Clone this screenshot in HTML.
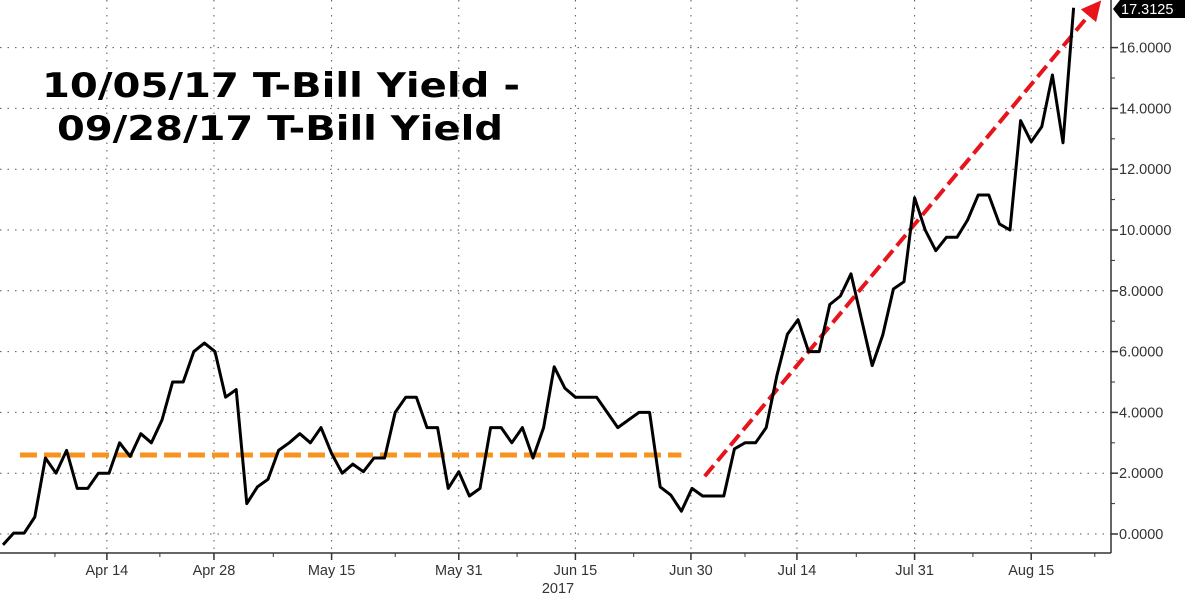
<!DOCTYPE html>
<html><head><meta charset="utf-8"><style>
html,body{margin:0;padding:0;background:#fff;}
svg{display:block;font-family:"Liberation Sans",Arial,sans-serif;}
</style></head><body>
<svg id="chart" width="1185" height="598" viewBox="0 0 1185 598" xmlns="http://www.w3.org/2000/svg">
<g id="grid"></g>
<g id="axes"></g>
<g id="annotations"></g>
<g id="series"></g>
<g font-weight="bold" font-size="34" fill="#000" font-family="'DejaVu Sans','Liberation Sans',sans-serif">
<text x="42" y="97" textLength="478" lengthAdjust="spacingAndGlyphs">10/05/17 T-Bill Yield -</text>
<text x="57" y="140" textLength="446" lengthAdjust="spacingAndGlyphs">09/28/17 T-Bill Yield</text>
</g>
</svg>
<script>
const values = [-0.36,0.03,0.03,0.56,2.5,2.0,2.75,1.5,1.5,2.0,2.0,3.0,2.55,3.3,3.0,3.75,5.0,5.0,6.0,6.28,6.0,4.5,4.75,1.0,1.55,1.8,2.75,3.0,3.3,3.0,3.5,2.65,2.0,2.3,2.05,2.5,2.5,4.0,4.5,4.5,3.5,3.5,1.5,2.05,1.25,1.5,3.5,3.5,3.0,3.5,2.5,3.5,5.5,4.8,4.5,4.5,4.5,4.0,3.5,3.75,4.0,4.0,1.55,1.28,0.75,1.5,1.25,1.25,1.25,2.8,3.0,3.0,3.5,5.2,6.57,7.05,6.0,6.0,7.55,7.83,8.56,7.05,5.54,6.55,8.06,8.3,11.06,10.0,9.32,9.76,9.76,10.33,11.15,11.15,10.2,10.0,13.6,12.9,13.4,15.1,12.87,17.3125];
const dateLabels = ["Apr 14","Apr 28","May 15","May 31","Jun 15","Jun 30","Jul 14","Jul 31","Aug 15"];
const dateIdx = [9.8,19.9,31,43,54,64.9,74.9,86,97];
const minorIdx = [4.9,14.8,25.5,37,48.5,59.5,70,80.5,91.5,103];
const yTicks = [0,2,4,6,8,10,12,14,16];
const lastLabel = "17.3125";
const avgLevel = [2.6];
const trendStart = [1.9], trendEnd = [17.3];
const trendIdx = [66.2, 103.0];
const avgIdx = [1.6, 64];

const NS="http://www.w3.org/2000/svg";
const X0=3, STEP=10.6, Y0=534, PU=30.4, RIGHT=1111, BOTTOM=553;
const xs=i=>X0+i*STEP, ys=v=>Y0-v*PU;
function mk(tag,attrs,parent){const e=document.createElementNS(NS,tag);for(const k in attrs)e.setAttribute(k,attrs[k]);parent.appendChild(e);return e;}
const grid=document.getElementById('grid'),axes=document.getElementById('axes'),ann=document.getElementById('annotations'),ser=document.getElementById('series');

yTicks.forEach(v=>{
  const l=mk('line',{x1:0,x2:RIGHT,y1:ys(v),y2:ys(v),stroke:'#555','stroke-width':1,'stroke-dasharray':'1.5 6'},grid);
  
  
  const t=mk('line',{x1:RIGHT,x2:RIGHT+7,y1:ys(v),y2:ys(v),stroke:'#333','stroke-width':1.5},axes);
  
  
  const tx=mk('text',{x:RIGHT+8,y:ys(v)+5,'font-size':14.5,fill:'#333'},axes);
  tx.textContent=v.toFixed(4);
  
  
  if(v<16){const m=mk('line',{x1:RIGHT,x2:RIGHT+4,y1:ys(v+1),y2:ys(v+1),stroke:'#333','stroke-width':1},axes);
  
  }
});
dateIdx.forEach((d,k)=>{
  const x=xs(d);
  const l=mk('line',{x1:x,x2:x,y1:0,y2:BOTTOM,stroke:'#555','stroke-width':1,'stroke-dasharray':'1.5 6'},grid);
  
  
  const t=mk('line',{x1:x,x2:x,y1:BOTTOM,y2:BOTTOM+7,stroke:'#333','stroke-width':1.5},axes);
  
  
  const tx=mk('text',{x:x,y:575,'font-size':14.5,fill:'#333','text-anchor':'middle'},axes);
  tx.textContent=dateLabels[k];
  
  
});
minorIdx.forEach(d=>{
  const m=mk('line',{x1:xs(d),x2:xs(d),y1:BOTTOM,y2:BOTTOM+4,stroke:'#333','stroke-width':1},axes);
  
  
});
const yr=mk('text',{x:558,y:593,'font-size':14.5,fill:'#333','text-anchor':'middle'},axes);
yr.textContent='2017';


const xa=mk('line',{x1:0,x2:RIGHT,y1:BOTTOM,y2:BOTTOM,stroke:'#333','stroke-width':1.5},axes);


const ya=mk('line',{x1:RIGHT,x2:RIGHT,y1:0,y2:BOTTOM,stroke:'#333','stroke-width':1.5},axes);



const av=mk('line',{x1:xs(avgIdx[0]),x2:xs(avgIdx[1]),y1:ys(avgLevel[0]),y2:ys(avgLevel[0]),stroke:'#f7931e','stroke-width':5,'stroke-dasharray':'17 7'},ann);


const defs=mk('defs',{},ann);
const mkr=mk('marker',{id:'ah',markerWidth:5,markerHeight:5,refX:2.5,refY:2.5,orient:'auto',markerUnits:'strokeWidth'},defs);
mk('path',{d:'M0,0 L5,2.5 L0,5 Z',fill:'#e8141b'},mkr);
const tr=mk('line',{x1:xs(trendIdx[0]),y1:ys(trendStart[0]),x2:xs(trendIdx[1]),y2:ys(trendEnd[0]),stroke:'#e8141b','stroke-width':4,'stroke-dasharray':'14 6','marker-end':'url(#ah)'},ann);



const p=mk('polyline',{points:values.map((v,i)=>xs(i).toFixed(1)+','+ys(v).toFixed(1)).join(' '),fill:'none',stroke:'#000','stroke-width':3,'stroke-linejoin':'round'},ser);



const ly=Math.max(9,ys(values[values.length-1]));
const lb=mk('path',{d:`M${RIGHT+2},${ly} L${RIGHT+9},${ly-9} L1185,${ly-9} L1185,${ly+9} L${RIGHT+9},${ly+9} Z`,fill:'#000'},axes);


const lt=mk('text',{x:RIGHT+10,y:ly+5,'font-size':14.5,fill:'#fff'},axes);
lt.textContent=lastLabel;


</script>
</body></html>
